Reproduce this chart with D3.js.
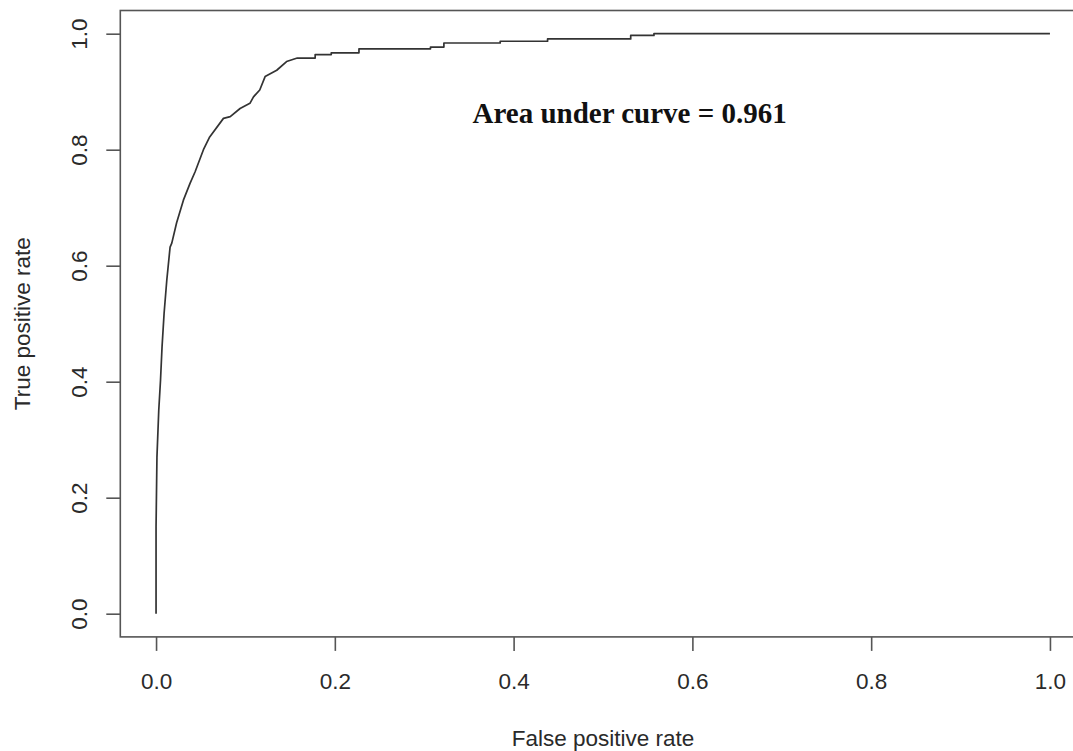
<!DOCTYPE html>
<html>
<head>
<meta charset="utf-8">
<script src="https://cdn.jsdelivr.net/npm/d3@7"></script>
<style>
  html, body { margin: 0; padding: 0; background: #fff; }
  svg { display: block; }
</style>
</head>
<body>
<div id="chart"></div>
<script>
// ---- Data ----
const fpr = [0.000, 0.000, 0.001, 0.003, 0.005, 0.0067, 0.009, 0.012, 0.0157, 0.0176,
  0.023, 0.0306, 0.038, 0.0437, 0.053, 0.060, 0.0754, 0.083, 0.094, 0.105,
  0.109, 0.116, 0.122, 0.135, 0.146, 0.158, 0.178, 0.178, 0.196, 0.196,
  0.227, 0.227, 0.307, 0.307, 0.322, 0.322, 0.385, 0.385, 0.438, 0.438,
  0.531, 0.531, 0.557, 0.557, 1.000];
const tpr = [0.000, 0.150, 0.270, 0.350, 0.403, 0.460, 0.518, 0.575, 0.632, 0.639,
  0.674, 0.713, 0.742, 0.762, 0.800, 0.822, 0.854, 0.857, 0.871, 0.880,
  0.891, 0.903, 0.926, 0.937, 0.952, 0.958, 0.958, 0.964, 0.964, 0.967,
  0.967, 0.974, 0.974, 0.977, 0.977, 0.984, 0.984, 0.987, 0.987, 0.991,
  0.991, 0.997, 0.997, 1.000, 1.000];
const xTicks = [0.0, 0.2, 0.4, 0.6, 0.8, 1.0];
const yTicks = [0.0, 0.2, 0.4, 0.6, 0.8, 1.0];
const xLabel = "False positive rate";
const yLabel = "True positive rate";
const aucText = "Area under curve = 0.961";

// ---- Layout ----
const W = 1073, H = 751;
const svg = d3.select("#chart").append("svg").attr("width", W).attr("height", H);

const x = d3.scaleLinear().domain([-0.04, 1.04]).range([120.3, 1085.7]);
const y = d3.scaleLinear().domain([-0.04, 1.04]).range([636.9, 10.5]);

const axisColor = "#555";
const textColor = "#2a2a2a";
const sans = "'Liberation Sans', Arial, Helvetica, sans-serif";

// plot box
svg.append("rect")
  .attr("x", x(-0.04)).attr("y", y(1.04))
  .attr("width", x(1.04) - x(-0.04)).attr("height", y(-0.04) - y(1.04))
  .attr("fill", "none").attr("stroke", axisColor).attr("stroke-width", 1.6);

// x axis
const gx = svg.append("g").attr("transform", `translate(0,${y(-0.04)})`)
  .call(d3.axisBottom(x).tickValues(xTicks).tickFormat(d3.format(".1f"))
    .tickSize(14).tickPadding(22));
gx.select(".domain").remove();
gx.selectAll("line").attr("stroke", axisColor).attr("stroke-width", 1.6);
gx.selectAll("text").attr("font-family", sans).attr("font-size", 22.5).attr("fill", textColor);

// y axis (labels parallel to axis, as in R)
const gy = svg.append("g").attr("transform", `translate(${x(-0.04)},0)`)
  .call(d3.axisLeft(y).tickValues(yTicks).tickFormat(d3.format(".1f")).tickSize(14));
gy.select(".domain").remove();
gy.selectAll("line").attr("stroke", axisColor).attr("stroke-width", 1.6);
gy.selectAll("text")
  .attr("x", null).attr("dy", null)
  .attr("transform", "translate(-33,0) rotate(-90)")
  .attr("text-anchor", "middle")
  .attr("font-family", sans).attr("font-size", 22.5).attr("fill", textColor);

// axis titles
svg.append("text")
  .attr("x", (x(-0.04) + x(1.04)) / 2).attr("y", 746)
  .attr("text-anchor", "middle")
  .attr("font-family", sans).attr("font-size", 22.5).attr("fill", textColor)
  .text(xLabel);
svg.append("text")
  .attr("transform", `translate(29.5,${(y(-0.04) + y(1.04)) / 2}) rotate(-90)`)
  .attr("text-anchor", "middle")
  .attr("font-family", sans).attr("font-size", 22.5).attr("fill", textColor)
  .text(yLabel);

// ROC curve
const pts = fpr.map((f, i) => [f, tpr[i]]);
svg.append("path")
  .datum(pts)
  .attr("fill", "none").attr("stroke", "#333").attr("stroke-width", 1.7)
  .attr("stroke-linejoin", "round")
  .attr("d", d3.line().x(d => x(d[0])).y(d => y(d[1])));

// AUC annotation
svg.append("text")
  .attr("x", x(0.354)).attr("y", y(0.846))
  .attr("font-family", "'Liberation Serif', 'Times New Roman', Times, serif")
  .attr("font-weight", "bold").attr("font-size", 29).attr("fill", "#111")
  .text(aucText);
</script>
</body>
</html>
